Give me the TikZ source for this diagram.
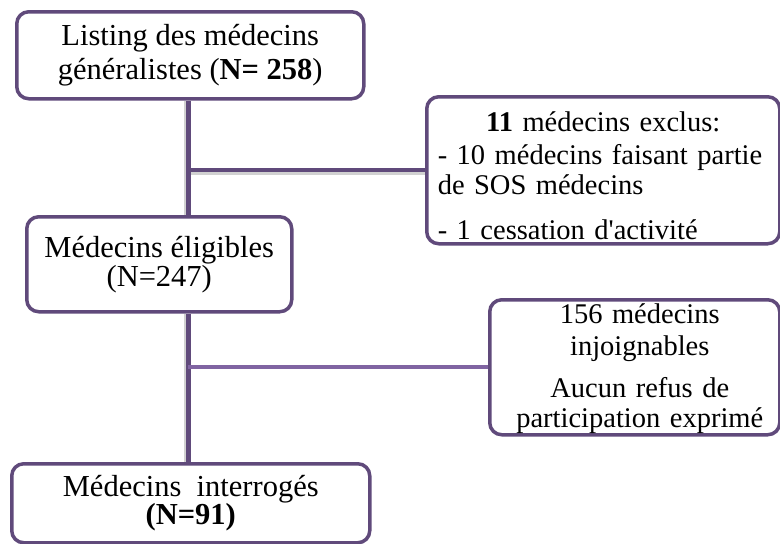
\documentclass[tikz,border=0pt]{standalone}
\usepackage{fontspec}
\setmainfont{Liberation Serif}[Ligatures=TeXOff]
\definecolor{pdark}{HTML}{604A7B}
\definecolor{plight}{HTML}{8064A2}
\newcommand\shr{\hspace*{10pt}}
\begin{document}
\begin{tikzpicture}[x=1pt,y=-1pt,
  box/.style={draw=pdark, line width=3.5pt, rounded corners=12pt, fill=white,
    anchor=north west, inner sep=0pt, align=center},
  mainfont/.style={font=\fontsize{30.5}{34}\selectfont},
  sidefont/.style={font=\fontsize{28.5}{30}\selectfont},
  trunk/.style={draw=pdark, line width=5pt},
  branch/.style={draw=pdark, line width=4.5pt},
  branchb/.style={draw=plight, line width=4pt},
  shadowline/.style={draw=black!18, line width=4pt}]
\useasboundingbox (0,0) rectangle (780,544);

\coordinate (sx) at (188,0);
\coordinate (j1) at (188,170);
\coordinate (j2) at (188,367);

% boxes
\node[box, mainfont, minimum width=347, minimum height=87] (b1) at (15,10)
  {Listing des médecins\\ généralistes (\textbf{N= 258})};
\node[box, sidefont, minimum width=353, minimum height=147, text width=331, align=left] (b2) at (425,95)
  {\rule{0pt}{30pt}\makebox[\linewidth]{\textbf{11} médecins exclus:}\\[3pt]
   - 10 médecins faisant partie\\ de SOS médecins\\[15pt]
   - 1 cessation d'activité};
\node[box, font=\fontsize{30.5}{29}\selectfont, minimum width=265, minimum height=95] (b3) at (25,215)
  {Médecins éligibles\\ (N=247)};
\node[box, sidefont, minimum width=290, minimum height=135, text width=280] (b4) at (488,298)
  {\rule{0pt}{23pt}\shr 156 médecins\\[2pt] \shr injoignables\\[12pt]
   \shr Aucun refus de\\ \shr participation exprimé};
\node[box, font=\fontsize{30.5}{27}\selectfont, minimum width=358, minimum height=79] (b5) at (10,462)
  {Médecins~ interrogés\\ \textbf{(N=91)}};

% shadows
\draw[shadowline] ([xshift=-2.5pt]b1.south -| sx) -- ([xshift=-2.5pt]b3.north -| sx);
\draw[shadowline] ([xshift=-2.5pt]b3.south -| sx) -- ([xshift=-2.5pt]b5.north -| sx);
\draw[shadowline] ([yshift=-2.5pt]j1) -- ([yshift=-2.5pt]j1 -| b2.west);

% connectors
\draw[trunk] (b1.south -| sx) -- (b3.north -| sx);
\draw[trunk] (b3.south -| sx) -- (b5.north -| sx);
\draw[branch] (j1) -- (j1 -| b2.west);
\draw[branchb] (j2) -- (j2 -| b4.west);
\end{tikzpicture}
\end{document}
